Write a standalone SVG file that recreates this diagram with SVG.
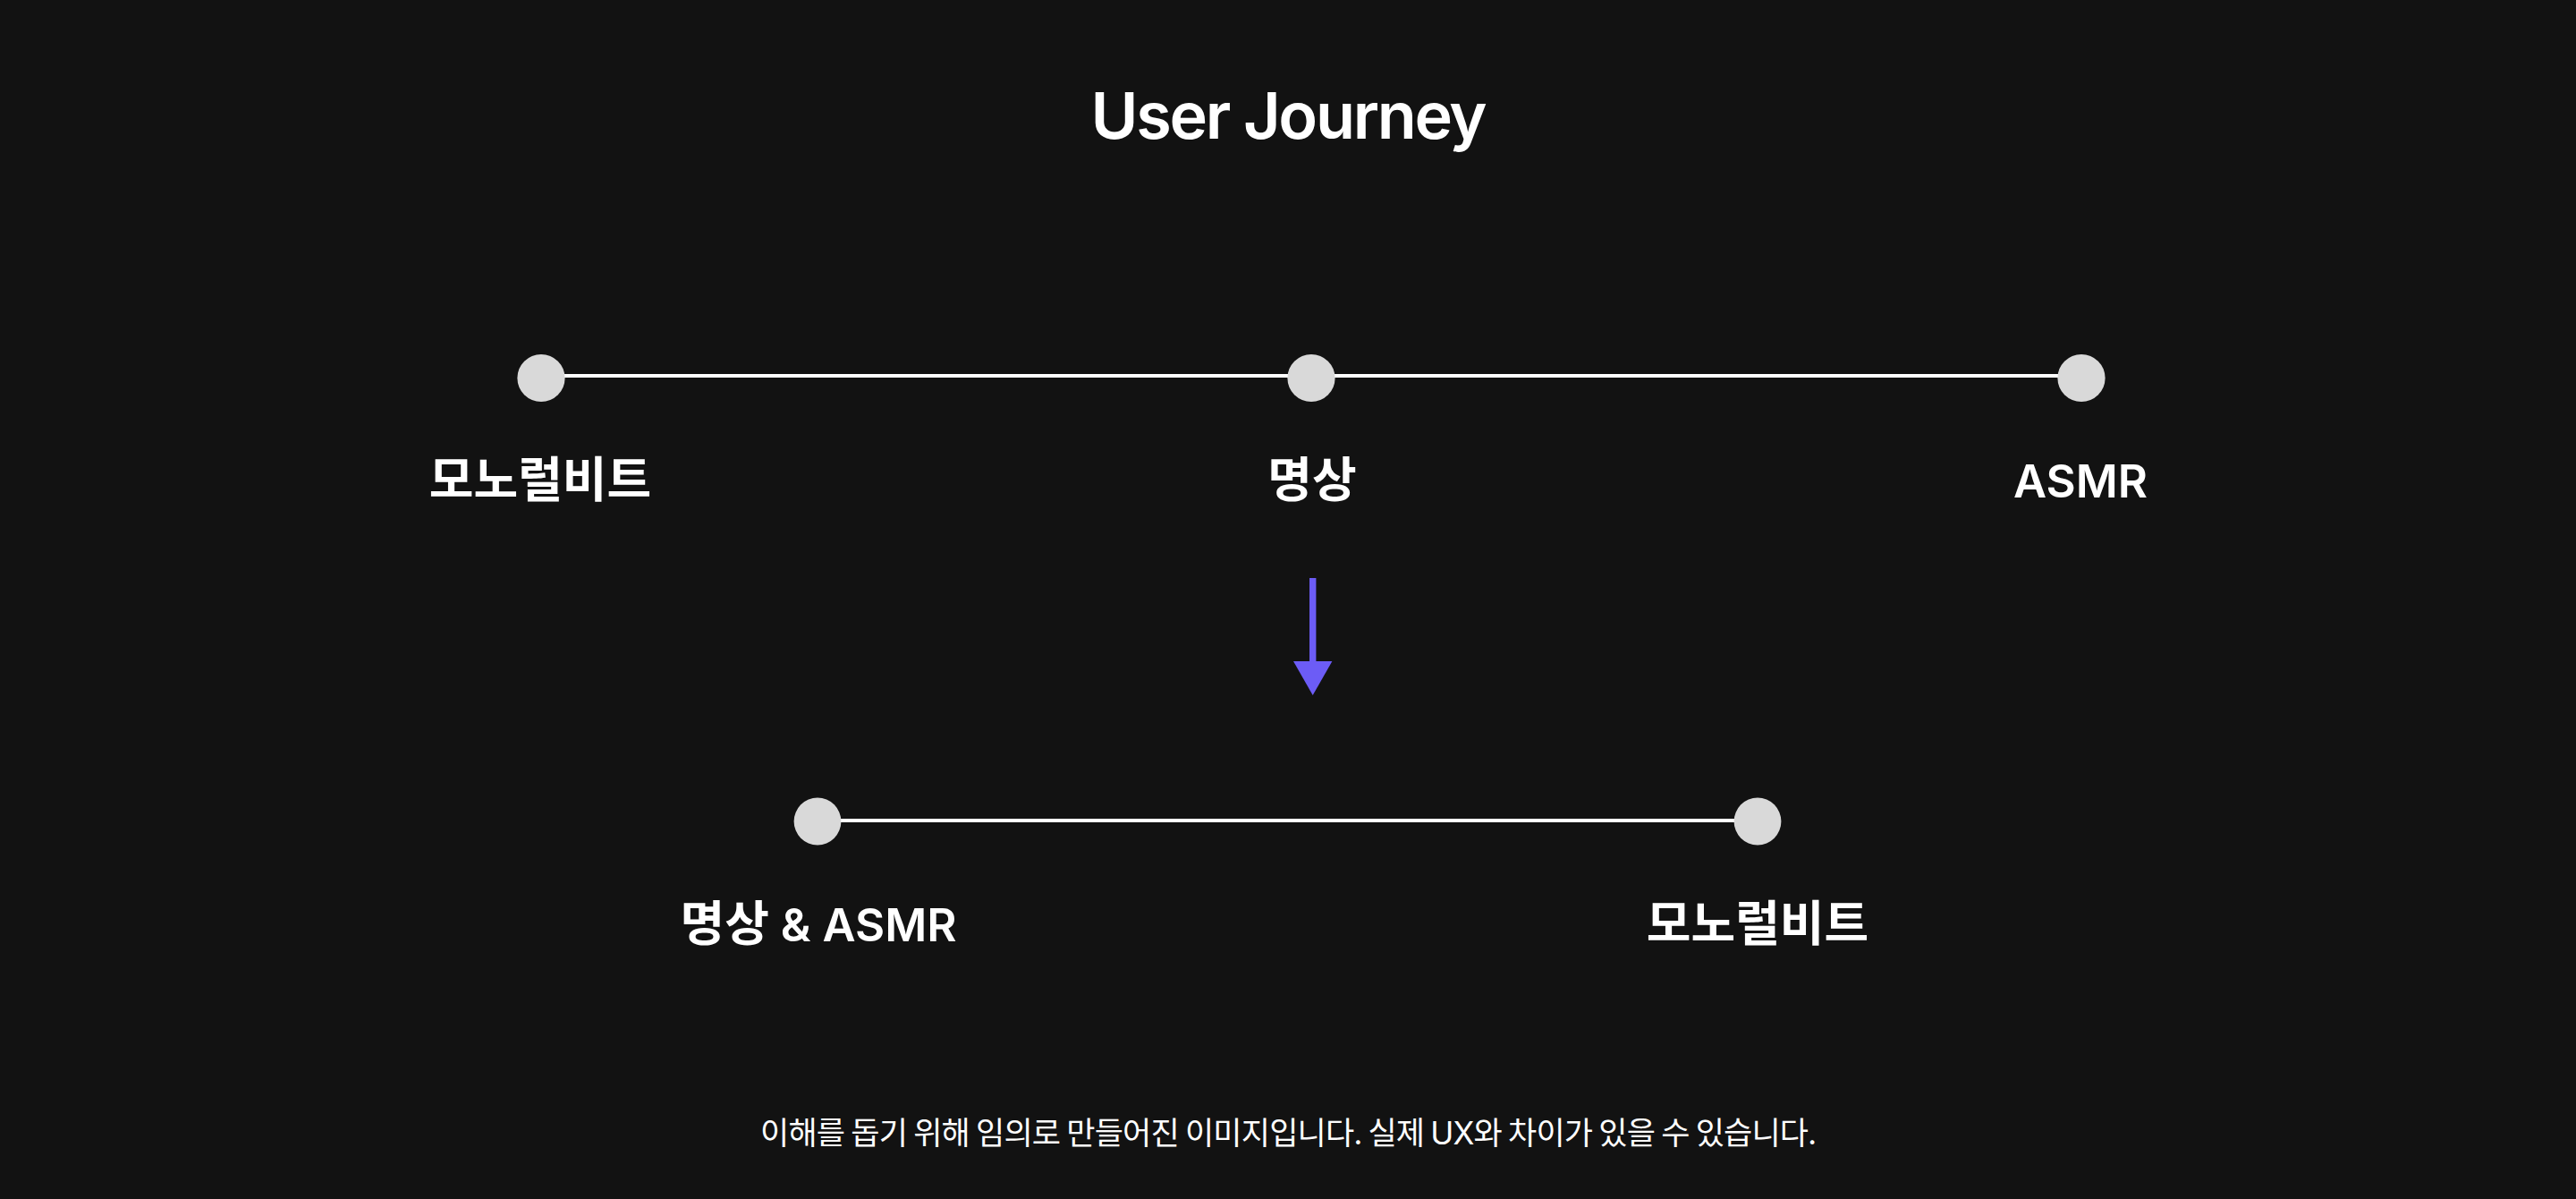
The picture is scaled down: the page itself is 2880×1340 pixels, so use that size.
<svg xmlns="http://www.w3.org/2000/svg" width="2880" height="1340" viewBox="0 0 2880 1340">
  <style>
    .bg { fill: #121212; }
    .dot { fill: #d9d9d9; }
    .link { stroke: #ffffff; stroke-width: 4; fill: none; }
    .title { font-family: "Inter", "Noto Sans CJK KR", sans-serif; font-size: 72px; font-weight: 600; fill: #ffffff; letter-spacing: -2.3px; }
    .label { font-family: "Noto Sans CJK KR", "Inter", sans-serif; font-size: 54px; font-weight: 700; fill: #ffffff; }
    .latin { font-family: "Inter", "Noto Sans CJK KR", sans-serif; font-size: 51px; font-weight: 600; }
    .note { font-family: "Noto Sans CJK KR", "Inter", sans-serif; font-size: 35px; font-weight: 400; fill: #ffffff; }
    .note-latin { font-family: "Inter", "Noto Sans CJK KR", sans-serif; }
    .arrow { fill: #6c5cf6; }
  </style>
  <rect class="bg" x="0" y="0" width="2880" height="1340"/>

  <text id="title" class="title" x="1440" y="155" text-anchor="middle">User Journey</text>

  <g id="connectors">
    <line class="link" x1="605" y1="420" x2="2327" y2="420"/>
    <line class="link" x1="914" y1="917" x2="1965" y2="917"/>
    <g id="arrow-down">
      <rect class="arrow" x="1464" y="646" width="7.4" height="95"/>
      <polygon class="arrow" points="1446,739 1489.4,739 1467.7,777"/>
    </g>
  </g>

  <g id="node-mono-1">
    <circle class="dot" cx="605" cy="422.5" r="26.6"/>
    <text class="label" x="604" y="556" text-anchor="middle">모노럴비트</text>
  </g>
  <g id="node-meditation">
    <circle class="dot" cx="1466" cy="422.5" r="26.6"/>
    <text class="label" x="1467" y="556" text-anchor="middle">명상</text>
  </g>
  <g id="node-asmr">
    <circle class="dot" cx="2327" cy="422.5" r="26.6"/>
    <text class="label" x="2326" y="556" text-anchor="middle"><tspan class="latin">ASMR</tspan></text>
  </g>
  <g id="node-meditation-asmr">
    <circle class="dot" cx="914" cy="918" r="26.4"/>
    <text class="label" x="915" y="1052" text-anchor="middle">명상<tspan class="latin"> &amp; ASMR</tspan></text>
  </g>
  <g id="node-mono-2">
    <circle class="dot" cx="1965" cy="918" r="26.4"/>
    <text class="label" x="1965" y="1052" text-anchor="middle">모노럴비트</text>
  </g>

  <text id="note" class="note" x="850" y="1279" textLength="1181" lengthAdjust="spacing">이해를 돕기 위해 임의로 만들어진 이미지입니다. 실제 <tspan class="note-latin">UX</tspan>와 차이가 있을 수 있습니다.</text>
</svg>
